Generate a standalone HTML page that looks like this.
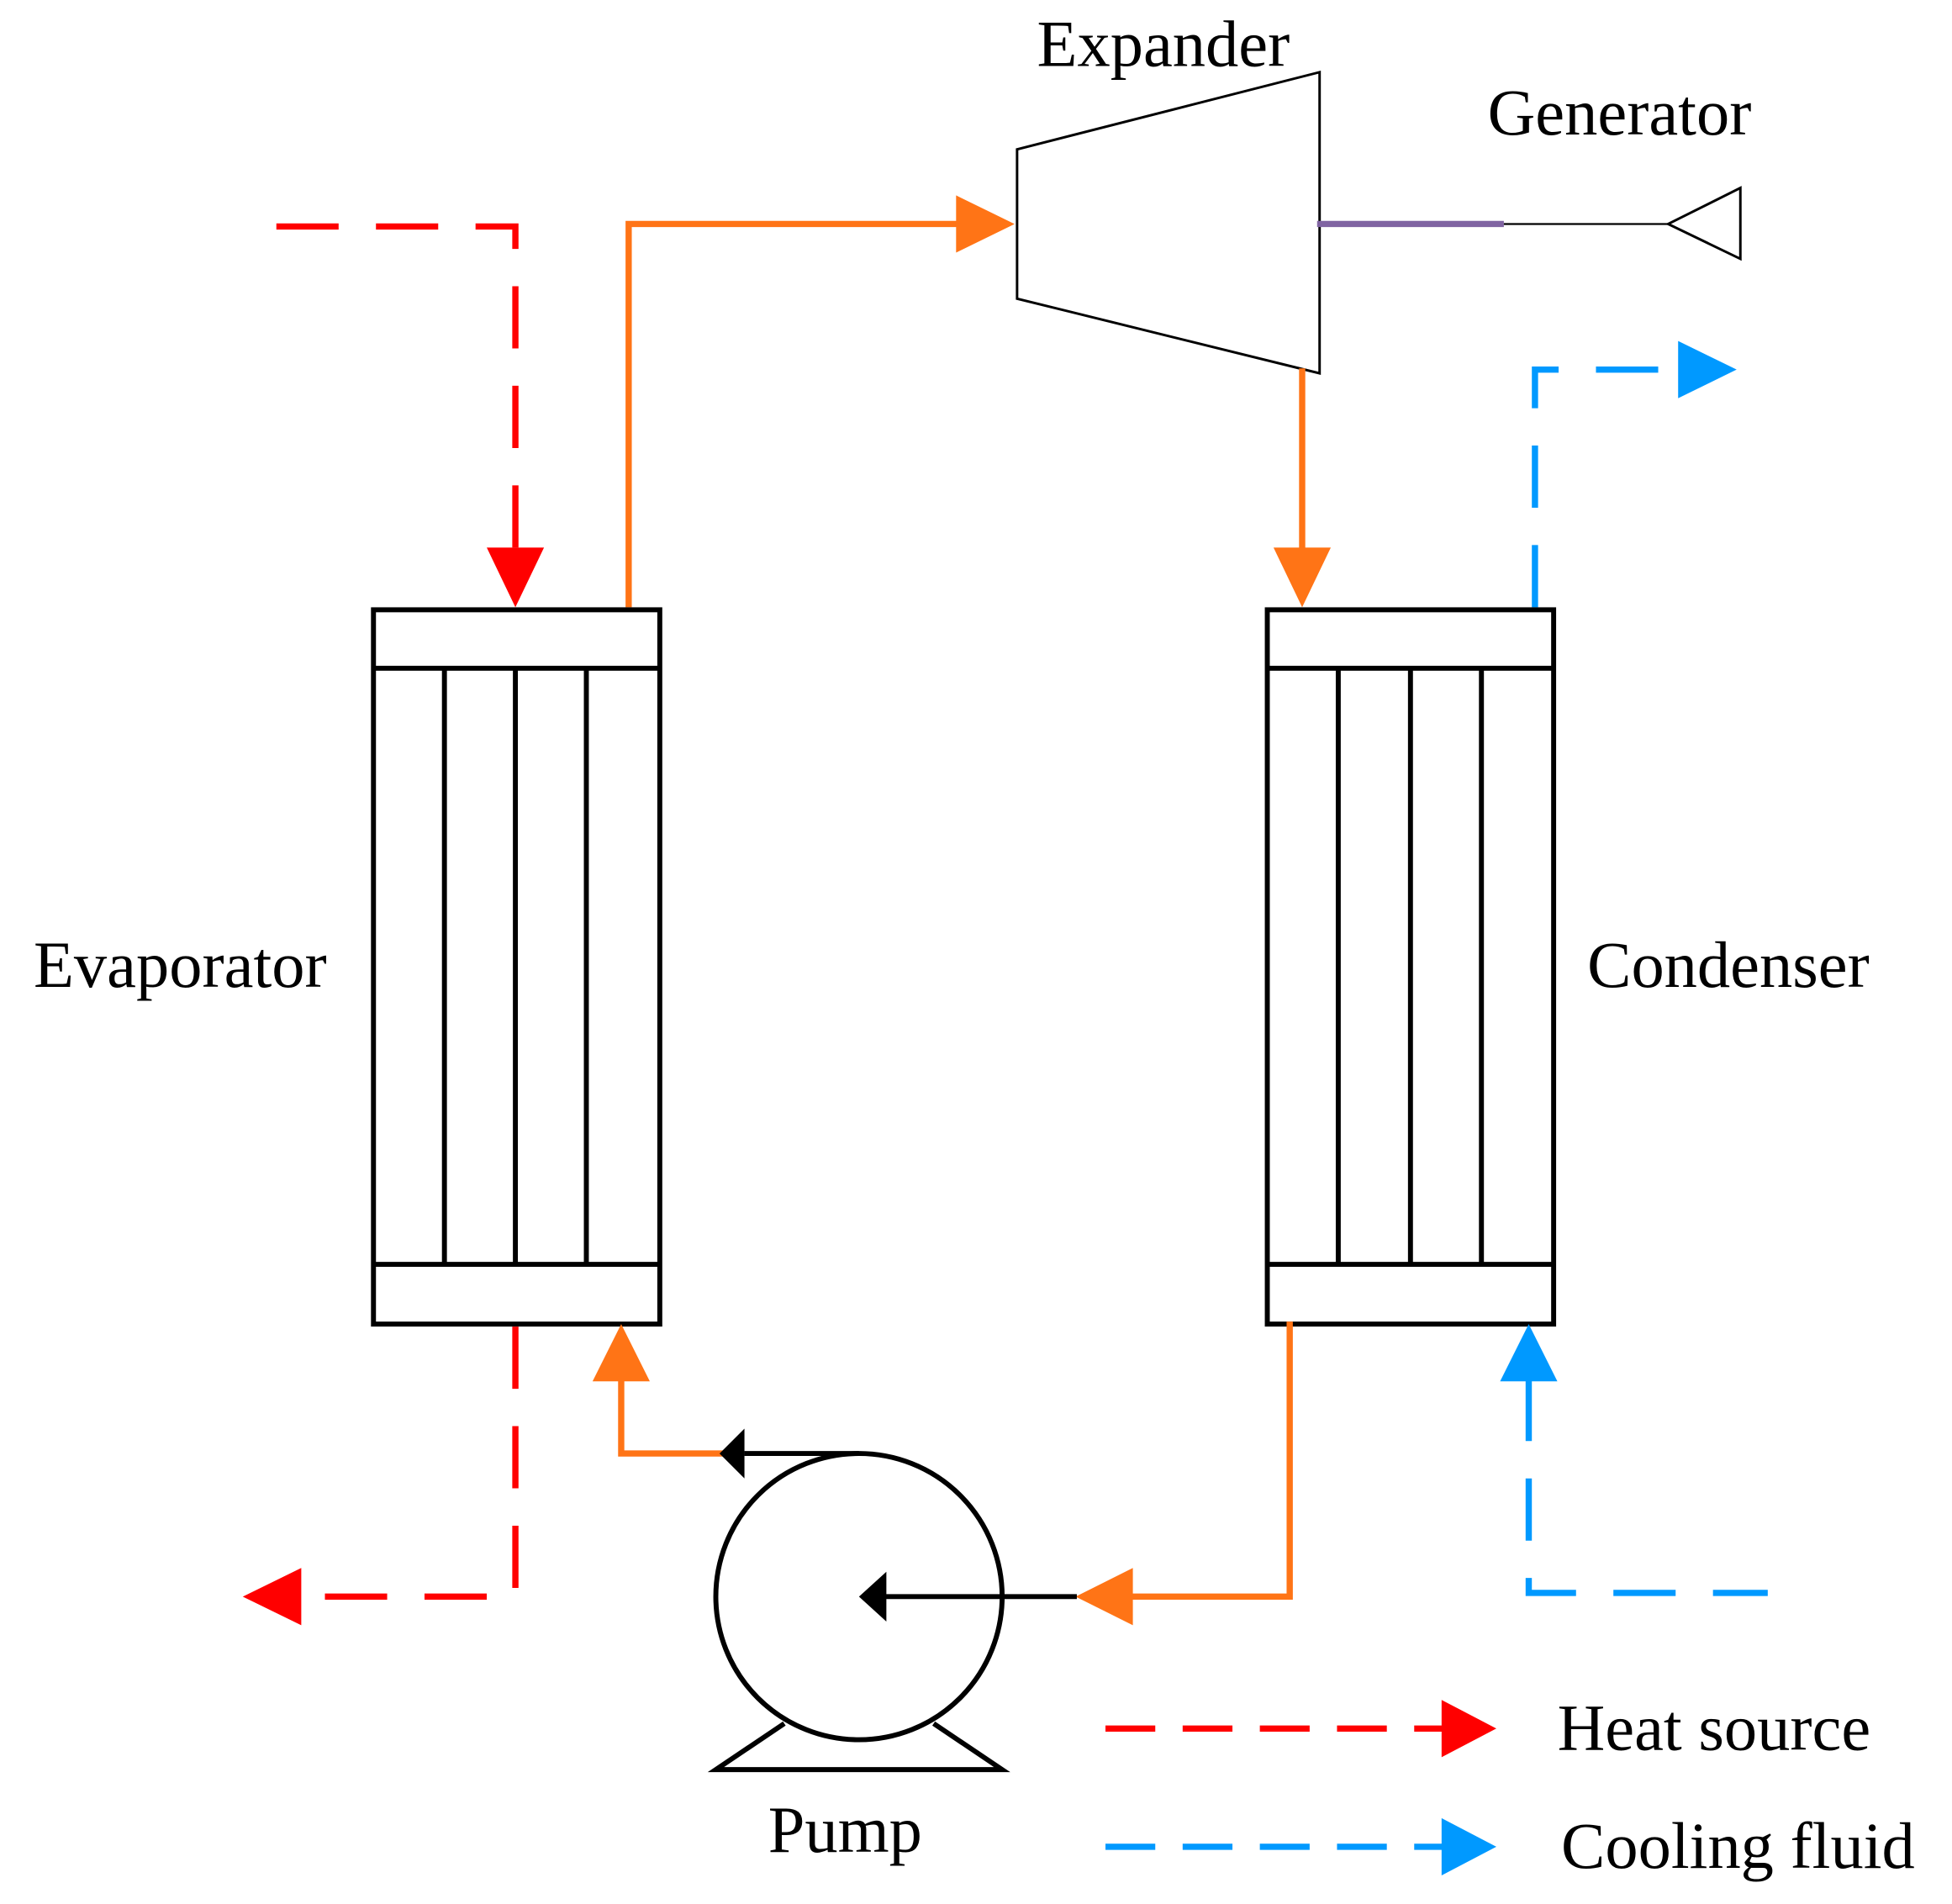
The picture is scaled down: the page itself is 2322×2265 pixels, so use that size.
<!DOCTYPE html>
<html><head><meta charset="utf-8"><style>
html,body{margin:0;padding:0;background:#fff;}
svg{display:block;}
text{font-family:"Liberation Serif",serif;font-size:53px;fill:#000;}
</style></head><body>
<svg width="2322" height="2265" viewBox="0 0 1568 1530" preserveAspectRatio="none" xmlns="http://www.w3.org/2000/svg">
<polygon points="817,120 1060,58 1060,300 817,240" fill="none" stroke="#000" stroke-width="2"/>
<text x="833" y="53">Expander</text>
<text x="1195" y="108">Generator</text>
<line x1="1058" y1="180" x2="1208" y2="180" stroke="#8064a2" stroke-width="5"/>
<line x1="1208" y1="180" x2="1340" y2="180" stroke="#000" stroke-width="1.5"/>
<polygon points="1340,180 1398,151 1398,208" fill="none" stroke="#000" stroke-width="2"/>

<polyline points="222,182 414,182 414,445" fill="none" stroke="#ff0000" stroke-width="5" stroke-dasharray="50,30"/>
<polygon points="391,440 437,440 414,488" fill="#ff0000"/>
<polyline points="505,488 505,180 770,180" fill="none" stroke="#ff7416" stroke-width="5"/>
<polygon points="768,157 768,203 815,180" fill="#ff7416"/>
<line x1="1046" y1="296" x2="1046" y2="445" stroke="#ff7416" stroke-width="5"/>
<polygon points="1023,440 1069,440 1046,488" fill="#ff7416"/>
<polyline points="1233,488 1233,297 1350,297" fill="none" stroke="#0099ff" stroke-width="5" stroke-dasharray="50,30"/>
<polygon points="1348,274 1348,320 1395,297" fill="#0099ff"/>

<g fill="none" stroke="#000" stroke-width="4">
<rect x="300" y="490" width="230" height="574"/>
<line x1="300" y1="537" x2="530" y2="537"/>
<line x1="300" y1="1016" x2="530" y2="1016"/>
<line x1="357" y1="537" x2="357" y2="1016"/>
<line x1="414" y1="537" x2="414" y2="1016"/>
<line x1="471" y1="537" x2="471" y2="1016"/>
<rect x="1018" y="490" width="230" height="574"/>
<line x1="1018" y1="537" x2="1248" y2="537"/>
<line x1="1018" y1="1016" x2="1248" y2="1016"/>
<line x1="1075" y1="537" x2="1075" y2="1016"/>
<line x1="1133" y1="537" x2="1133" y2="1016"/>
<line x1="1190" y1="537" x2="1190" y2="1016"/>
</g>
<text x="27" y="793">Evaporator</text>
<text x="1275" y="793">Condenser</text>

<polyline points="414,1066 414,1283 240,1283" fill="none" stroke="#ff0000" stroke-width="5" stroke-dasharray="50,30"/>
<polygon points="242,1260 242,1306 195,1283" fill="#ff0000"/>
<polyline points="582,1168 499,1168 499,1108" fill="none" stroke="#ff7416" stroke-width="5"/>
<polygon points="476,1110 522,1110 499,1064" fill="#ff7416"/>
<line x1="598" y1="1168" x2="690" y2="1168" stroke="#000" stroke-width="4"/>
<polygon points="598,1148 598,1188 578,1168" fill="#000"/>
<polyline points="1036,1062 1036,1283 908,1283" fill="none" stroke="#ff7416" stroke-width="5"/>
<polygon points="910,1260 910,1306 864,1283" fill="#ff7416"/>
<line x1="710" y1="1283" x2="865" y2="1283" stroke="#000" stroke-width="4"/>
<polygon points="712,1263 712,1303 690,1283" fill="#000"/>
<circle cx="690" cy="1283" r="115" fill="none" stroke="#000" stroke-width="4"/>
<polyline points="630,1385 575,1422 805,1422 750,1385" fill="none" stroke="#000" stroke-width="4"/>
<text x="617" y="1488">Pump</text>

<polyline points="1228,1108 1228,1280 1420,1280" fill="none" stroke="#0099ff" stroke-width="5" stroke-dasharray="50,30"/>
<polygon points="1205,1110 1251,1110 1228,1064" fill="#0099ff"/>

<line x1="888" y1="1389" x2="1160" y2="1389" stroke="#ff0000" stroke-width="5" stroke-dasharray="40,22"/>
<polygon points="1158,1366 1158,1412 1202,1389" fill="#ff0000"/>
<text x="1251" y="1406">Heat source</text>
<line x1="888" y1="1484" x2="1160" y2="1484" stroke="#0099ff" stroke-width="5" stroke-dasharray="40,22"/>
<polygon points="1158,1461 1158,1507 1202,1484" fill="#0099ff"/>
<text x="1254" y="1501">Cooling fluid</text>
</svg>
</body></html>
